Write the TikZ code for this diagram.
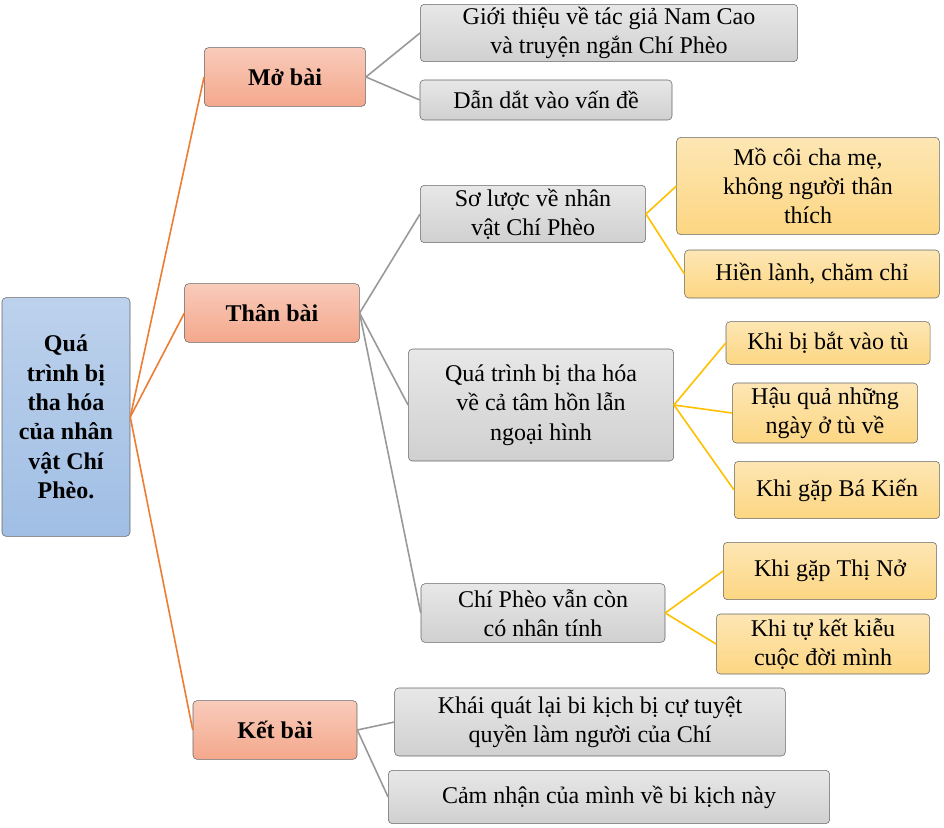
\documentclass[tikz,border=0pt]{standalone}
\usepackage{fontspec}
\setmainfont{Liberation Serif}
\definecolor{rootfill}{RGB}{160,190,228}
\definecolor{partfill}{RGB}{244,168,140}
\definecolor{grayfill}{RGB}{208,208,208}
\definecolor{goldfill}{RGB}{252,214,130}
\definecolor{orangeline}{RGB}{236,125,50}
\definecolor{goldline}{RGB}{255,192,0}
\usetikzlibrary{positioning}
\tikzset{
  box/.style={draw=black!60, rounded corners=3pt, align=center, inner sep=1pt,
    font=\fontsize{18}{22}\selectfont},
  rootbox/.style={box, top color=rootfill!70, bottom color=rootfill, font=\fontsize{18}{22}\selectfont\bfseries},
  partbox/.style={box, top color=partfill!60, bottom color=partfill, font=\fontsize{18}{22}\selectfont\bfseries},
  graybox/.style={box, top color=grayfill!50, bottom color=grayfill},
  goldbox/.style={box, top color=goldfill!60, bottom color=goldfill},
  orangelink/.style={orangeline, line width=1.2pt},
  graylink/.style={black!40, line width=1.2pt},
  goldlink/.style={goldline, line width=1.2pt}
}
\begin{document}
\begin{tikzpicture}[x=0.75pt,y=-0.75pt]
\useasboundingbox (0,0) rectangle (944,827);
		%root
		\node[rootbox, minimum width=96pt, minimum height=179pt] (root) at (66,417) {Quá\\trình bị\\tha hóa\\của nhân\\vật Chí\\Phèo.};
		
		%parts
		\node[partbox, minimum width=121pt, minimum height=44pt] (mo) at (285,77) {Mở bài};
		\node[partbox, minimum width=131pt, minimum height=44pt] (than) at (272,313) {Thân bài};
		\node[partbox, minimum width=123pt, minimum height=44pt] (ket) at (275,730) {Kết bài};
		
		%mo bai
		\node[graybox, minimum width=283pt, minimum height=43pt] (m1) at (609,33) {Giới thiệu về tác giả Nam Cao\\và truyện ngắn Chí Phèo};
		\node[graybox, minimum width=189pt, minimum height=30pt] (m2) at (546,100) {Dẫn dắt vào vấn đề};
		
		%than bai
		\node[graybox, minimum width=169pt, minimum height=43pt] (t1) at (533,214) {Sơ lược về nhân\\vật Chí Phèo};
		\node[graybox, minimum width=199pt, minimum height=84pt] (t2) at (541,405) {Quá trình bị tha hóa\\về cả tâm hồn lẫn\\ngoại hình};
		\node[graybox, minimum width=183pt, minimum height=44pt] (t3) at (543,613) {Chí Phèo vẫn còn\\có nhân tính};
		
		\node[goldbox, minimum width=197pt, minimum height=73pt] (a1) at (808,186) {Mồ côi cha mẹ,\\không người thân\\thích};
		\node[goldbox, minimum width=191pt, minimum height=36pt] (a2) at (812,274) {Hiền lành, chăm chỉ};
		\node[goldbox, minimum width=153pt, minimum height=32pt] (b1) at (828,343) {Khi bị bắt vào tù};
		\node[goldbox, minimum width=139pt, minimum height=45pt] (b2) at (825,413) {Hậu quả những\\ngày ở tù về};
		\node[goldbox, minimum width=154pt, minimum height=43pt] (b3) at (837,490) {Khi gặp Bá Kiến};
		\node[goldbox, minimum width=160pt, minimum height=43pt] (c1) at (830,571) {Khi gặp Thị Nở};
		\node[goldbox, minimum width=160pt, minimum height=45pt] (c2) at (823,644) {Khi tự kết kiễu\\cuộc đời mình};
		
		%ket bai
		\node[graybox, minimum width=293pt, minimum height=51pt] (k1) at (590,722) {Khái quát lại bi kịch bị cự tuyệt\\quyền làm người của Chí};
		\node[graybox, minimum width=331pt, minimum height=40pt] (k2) at (609,797) {Cảm nhận của mình về bi kịch này};
		
		%links
		\foreach \p in {mo,than,ket}
		\draw[orangelink] (root.east) -- (\p.west);
		\foreach \c in {m1,m2}
		\draw[graylink] (mo.east) -- (\c.west);
		\foreach \c in {t1,t2,t3}
		\draw[graylink] (than.east) -- (\c.west);
		\foreach \c in {k1,k2}
		\draw[graylink] (ket.east) -- (\c.west);
		\foreach \c in {a1,a2}
		\draw[goldlink] (t1.east) -- (\c.west);
		\foreach \c in {b1,b2,b3}
		\draw[goldlink] (t2.east) -- (\c.west);
		\foreach \c in {c1,c2}
		\draw[goldlink] (t3.east) -- (\c.west);
\end{tikzpicture}
\end{document}
